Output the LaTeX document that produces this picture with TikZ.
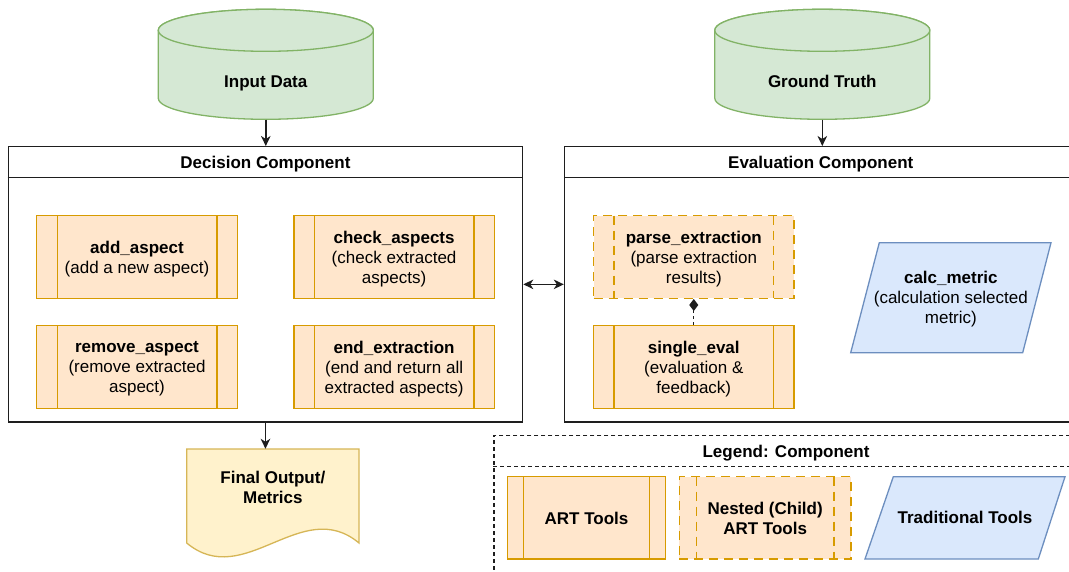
\documentclass[tikz,border=0pt]{standalone}
\usepackage{fontspec}
\setmainfont{Liberation Sans}
\usepackage{tikz}
\usetikzlibrary{positioning,arrows.meta,calc}
\definecolor{datafill}{RGB}{213,232,212}
\definecolor{dataline}{RGB}{130,179,102}
\definecolor{artfill}{RGB}{255,230,204}
\definecolor{artline}{RGB}{215,155,0}
\definecolor{docfill}{RGB}{255,242,204}
\definecolor{docline}{RGB}{214,182,86}
\definecolor{tradfill}{RGB}{218,232,252}
\definecolor{tradline}{RGB}{108,142,191}
\definecolor{borde}{RGB}{30,30,30}

\begin{document}
\begin{tikzpicture}[
  x=1pt, y=1pt,
  font=\fontsize{17}{20}\selectfont,
  >={Stealth[length=10pt, width=9.5pt, inset=3pt]},
  cyl/.style={draw=dataline, fill=datafill, line width=1.3pt},
  heading/.style={font=\fontsize{17}{20}\selectfont\bfseries},
  oneline/.style={heading, text height=12.2pt, text depth=0pt},
  comp/.style={draw=borde, line width=1.4pt, minimum height=275.3pt,
               inner sep=0pt},
  bars/.style 2 args={path picture={\draw[artline, line width=1.4pt, #2]
      ([xshift=#1]path picture bounding box.north west) --
      ([xshift=#1]path picture bounding box.south west)
      ([xshift=-#1]path picture bounding box.north east) --
      ([xshift=-#1]path picture bounding box.south east);}},
  tool/.style={draw=artline, fill=artfill, line width=1.4pt, align=center,
               minimum width=200.6pt, minimum height=82.6pt, inner sep=0pt,
               text depth=0pt, bars={20.5pt}{solid}},
  nested/.style={tool, dash pattern=on 9pt off 6pt,
                 bars={20.5pt}{dash pattern=on 9pt off 6pt}},
  trad/.style={draw=tradline, fill=tradfill, line width=1.3pt},
  conn/.style={draw=borde, line width=1.4pt},
]
\path[use as bounding box, fill=white] (0,0) rectangle (1069,-571);
% ---- Input Data / Ground Truth --------------------------------------------
\foreach \cx/\lab/\nm in {265.8/Input Data/input, 822.3/Ground Truth/truth} {
  \draw[cyl] (\cx-107.5,-30.3) -- (\cx-107.5,-98.3)
    arc[start angle=180, end angle=360, x radius=107.5, y radius=21]
    -- (\cx+107.5,-30.3)
    arc[start angle=0, end angle=180, x radius=107.5, y radius=21] -- cycle;
  \draw[cyl] (\cx,-30.3) ellipse[x radius=107.5, y radius=21];
  \node[oneline, minimum width=215pt, minimum height=75.2pt] (\nm)
    at (\cx,-81.7) {\lab};
}
% ---- Decision Component ---------------------------------------------------
\node[comp, minimum width=514.3pt] (decision) at (265.45,-284.35) {};
\node[oneline] (decisionTitle) at (265.45,-162.5) {Decision Component};
\draw[conn] ($(decision.north west)+(0,-31.6)$) --
  ($(decision.north east)+(0,-31.6)$);
\node[tool] (add) at (137,-257) {\textbf{add\_aspect}\\(add a new aspect)};
\node[tool] (check) at (394.1,-257)
  {\textbf{check\_aspects}\\(check extracted\\aspects)};
\node[tool] (remove) at (137,-367)
  {\textbf{remove\_aspect}\\(remove extracted\\aspect)};
\node[tool] (finish) at (394.1,-367)
  {\textbf{end\_extraction}\\(end and return all\\extracted aspects)};
% ---- Evaluation Component -------------------------------------------------
\node[comp, minimum width=512.5pt] (evaluation) at (820.75,-284.35) {};
\node[oneline] (evaluationTitle) at (820.75,-162.5) {Evaluation Component};
\draw[conn] ($(evaluation.north west)+(0,-31.6)$) --
  ($(evaluation.north east)+(0,-31.6)$);
\node[nested] (parse) at (693.8,-257)
  {\textbf{parse\_extraction}\\(parse extraction\\results)};
\node[tool] (single) at (693.8,-367)
  {\textbf{single\_eval}\\(evaluation \&\\feedback)};
\draw[trad] (879.3,-242.7) -- (1051,-242.7) -- (1022.7,-352.7)
  -- (850.7,-352.7) -- cycle;
\node[align=center, text depth=0pt] (calc) at (950.85,-297.7)
  {\textbf{calc\_metric}\\(calculation selected\\metric)};
\draw[borde, line width=1pt, dash pattern=on 3pt off 3pt,
      -{Diamond[length=12pt, width=9pt]}] (single.north) -- (parse.south);
% ---- Final Output ---------------------------------------------------------
\draw[draw=docline, fill=docfill, line width=1.3pt] (186.7,-449) -- (359,-449)
  -- (359,-543) .. controls (301.6,-495) and (244.4,-591) .. (186.7,-543)
  -- cycle;
\node[heading, align=center, minimum width=172.3pt, minimum height=76pt]
  (output) at (272.85,-487) {Final Output/\\Metrics};
% ---- connectors -----------------------------------------------------------
\draw[conn, ->] (input.south) -- (input.south |- decision.north);
\draw[conn, ->] (truth.south) -- (truth.south |- evaluation.north);
\draw[conn, <->] (decision.east) -- (evaluation.west);
\draw[conn, ->] (decision.south) -- (decision.south |- output.north);
% ---- Legend ---------------------------------------------------------------
\node[draw=borde, line width=1.2pt, dash pattern=on 4pt off 3pt,
      minimum width=584pt, minimum height=164.3pt, inner sep=0pt]
  (legend) at (786,-517.85) {};
\draw[borde, line width=1.2pt, dash pattern=on 4pt off 3pt]
  ($(legend.north west)+(0,-31)$) -- ($(legend.north east)+(0,-31)$);
\node[oneline] (legendTitle) at (786,-451.2) {Legend: Component};
\node[tool, minimum width=157.6pt, minimum height=82.3pt, bars={16pt}{solid}]
  (artKey) at (586.5,-517.85) {\textbf{ART Tools}};
\node[nested, minimum width=171.7pt, minimum height=82.3pt,
      bars={17.2pt}{dash pattern=on 9pt off 6pt}]
  (nestedKey) at (765.15,-517.85) {\textbf{Nested (Child)}\\\textbf{ART Tools}};
\draw[trad] (893.3,-476.7) -- (1065,-476.7) -- (1038.3,-559) -- (865,-559)
  -- cycle;
\node[oneline] (tradKey) at (965,-517.85) {Traditional Tools};
\end{tikzpicture}
\end{document}
